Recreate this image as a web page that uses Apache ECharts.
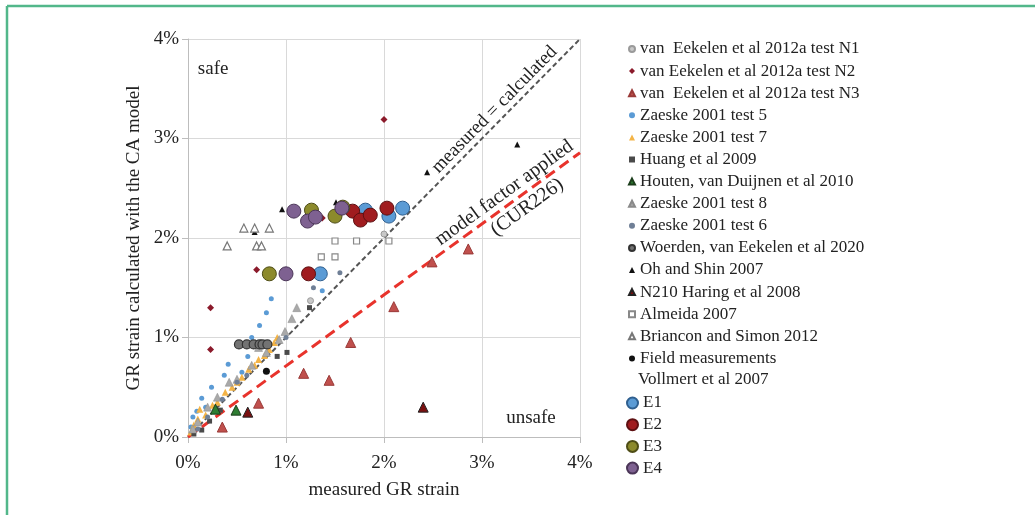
<!DOCTYPE html>
<html>
<head>
<meta charset="utf-8">
<script src="https://cdn.jsdelivr.net/npm/echarts@6/dist/echarts.min.js"></script>
<style>
html,body{margin:0;padding:0;background:#fff;}
#c{width:1035px;height:515px;}
</style>
</head>
<body>
<div id="c"></div>
<script>
// ---- data (values in % strain: [measured, calculated]) ----
var xTicks = [0, 1, 2, 3, 4];
var n1 = [[1.25,1.37],[2.0,2.04]];
var n2 = [[2.0,3.19],[0.23,1.30],[0.23,0.88],[0.70,1.68],[1.37,2.20]];
var n3 = [[2.86,1.89],[2.49,1.76],[2.10,1.31],[1.66,0.95],[1.18,0.64],[1.44,0.57],[0.72,0.34],[0.35,0.10]];
var zaeske5 = [[0.03,0.10],[0.05,0.20],[0.09,0.26],[0.14,0.39],[0.18,0.30],[0.24,0.50],[0.37,0.62],[0.41,0.73],[0.55,0.65],[0.61,0.81],[0.65,1.00],[0.73,1.12],[0.80,1.25],[0.85,1.39],[1.37,1.47]];
var zaeske7 = [[0.03,0.05],[0.06,0.12],[0.10,0.18],[0.12,0.28],[0.18,0.22],[0.25,0.32],[0.30,0.35],[0.38,0.45],[0.45,0.50],[0.50,0.55],[0.55,0.60],[0.62,0.68],[0.68,0.72],[0.72,0.78],[0.78,0.82],[0.83,0.88],[0.88,0.95],[0.91,1.00]];
var huang = [[0.06,0.03],[0.14,0.07],[0.22,0.16],[0.33,0.27],[0.91,0.81],[1.01,0.85],[1.24,1.30]];
var houten = [[0.49,0.27],[0.28,0.28]];
var zaeske8 = [[0.05,0.08],[0.10,0.15],[0.20,0.30],[0.30,0.40],[0.42,0.55],[0.50,0.58],[0.65,0.72],[0.72,0.90],[0.80,0.85],[0.93,0.98],[0.99,1.06],[1.06,1.19],[1.11,1.30]];
var zaeske6 = [[0.10,0.08],[0.20,0.20],[0.35,0.38],[0.50,0.55],[0.60,0.62],[1.00,1.00],[1.28,1.50],[1.55,1.65]];
var woerden = [[0.52,0.93],[0.60,0.93],[0.67,0.93],[0.73,0.93],[0.76,0.93],[0.81,0.93]];
var ohShin = [[3.36,2.94],[2.44,2.66],[0.96,2.29],[1.51,2.36],[0.68,2.06]];
var haring = [[2.40,0.30],[0.61,0.25]];
var almeida = [[1.50,1.97],[1.72,1.97],[2.05,1.97],[1.36,1.81],[1.50,1.81]];
var briancon = [[0.40,1.92],[0.57,2.10],[0.68,2.10],[0.83,2.10],[0.70,1.92],[0.75,1.92]];
var vollmert = [[0.80,0.66]];
var e1 = [[1.35,1.64],[1.81,2.28],[2.05,2.22],[2.19,2.30]];
var e2 = [[1.23,1.64],[1.68,2.27],[1.76,2.18],[1.86,2.23],[2.03,2.30]];
var e3 = [[0.83,1.64],[1.26,2.28],[1.50,2.22],[1.58,2.31]];
var e4 = [[1.00,1.64],[1.08,2.27],[1.22,2.17],[1.30,2.21],[1.57,2.30]];
var lineEqual = [[0,0],[4,4]];
var lineFactor = [[0,0],[4,2.857]];

var names = ['van  Eekelen et al 2012a test N1','van Eekelen et al 2012a test N2','van  Eekelen et al 2012a test N3',
 'Zaeske 2001 test 5','Zaeske 2001 test 7','Huang et al 2009','Houten, van Duijnen et al 2010','Zaeske 2001 test 8',
 'Zaeske 2001 test 6','Woerden, van Eekelen et al 2020','Oh and Shin 2007','N210 Haring et al 2008','Almeida 2007',
 'Briancon and Simon 2012','Field measurements Vollmert et al 2007'];
var eNames = ['E1','E2','E3','E4'];

var FONT = 'Liberation Serif';
function sc(name, data, symbol, size, color, border, bw, z){
  return {name:name, type:'scatter', data:data, symbol:symbol, symbolSize:size, z:z||3,
    itemStyle:{color:color, borderColor:border||color, borderWidth:bw||0, opacity:1}, emphasis:{disabled:true}};
}
var series = [
  {name:'eq', type:'line', data:lineEqual, symbol:'none', z:2, silent:true,
   lineStyle:{color:'#555', width:2, type:[5,3]}},
  {name:'factor', type:'line', data:lineFactor, symbol:'none', z:2, silent:true,
   lineStyle:{color:'#e8332c', width:3, type:[11,6]}},
  sc(names[0], n1, 'circle', 6, '#c8c8c8', '#9a9a9a', 1),
  sc(names[1], n2, 'diamond', 7, '#8b1a2b'),
  sc(names[2], n3, 'triangle', 10, '#c0504d', '#9a3a38', 1),
  sc(names[3], zaeske5, 'circle', 5, '#5b9bd5'),
  sc(names[4], zaeske7, 'triangle', 7, '#f4b446'),
  sc(names[5], huang, 'rect', 5, '#4a4a4a'),
  sc(names[6], houten, 'triangle', 10, '#2e7d32', '#1b3d1b', 1),
  sc(names[7], zaeske8, 'triangle', 8, '#a9a9a9', '#8a8a8a', 0.5),
  sc(names[8], zaeske6, 'circle', 5, '#6f7f96'),
  sc(names[9], woerden, 'circle', 9, '#737373', '#333', 1.2),
  sc(names[10], ohShin, 'triangle', 6, '#111'),
  sc(names[11], haring, 'triangle', 10, '#7a1010', '#222', 1),
  sc(names[12], almeida, 'rect', 6, '#fff', '#888', 1.2),
  sc(names[13], briancon, 'triangle', 8, '#fff', '#777', 1.2),
  sc(names[14], vollmert, 'circle', 7, '#111'),
  sc(eNames[0], e1, 'circle', 14, '#5b9bd5', '#2f5f8f', 1, 5),
  sc(eNames[1], e2, 'circle', 14, '#a01c1f', '#5e1012', 1, 5),
  sc(eNames[2], e3, 'circle', 14, '#8c8a2c', '#4e4d16', 1, 5),
  sc(eNames[3], e4, 'circle', 14, '#7e6191', '#4b3658', 1, 5)
];

var axisCommon = {
  type:'value', min:0, max:4, interval:1,
  axisLine:{show:true, lineStyle:{color:'#bdbdbd', width:1}},
  axisTick:{show:true, length:6, lineStyle:{color:'#bdbdbd'}},
  splitLine:{show:true, lineStyle:{color:'#d9d9d9', width:1}},
  axisLabel:{fontFamily:FONT, fontSize:19, color:'#222', formatter:function(v){return v+'%';}},
  nameTextStyle:{fontFamily:FONT, fontSize:19, color:'#222'}
};

var chart = echarts.init(document.getElementById('c'), null, {renderer:'canvas'});
var option = {
  animation:false,
  backgroundColor:'#fff',
  grid:{left:188, right:455, top:39, bottom:78, containLabel:false},
  xAxis: Object.assign({}, axisCommon, {name:'measured GR strain', nameLocation:'middle', nameGap:44,
    axisLabel:Object.assign({}, axisCommon.axisLabel, {margin:17})}),
  yAxis: Object.assign({}, axisCommon, {name:'GR strain calculated with the CA model', nameLocation:'middle', nameGap:44,
    axisLabel:Object.assign({}, axisCommon.axisLabel, {margin:9})}),
  legend:[
    {orient:'vertical', left:623, top:34, itemWidth:6, itemHeight:6, itemGap:2.1,
     data:names, selectedMode:false,
     formatter:function(n){return n==='Field measurements Vollmert et al 2007'?'Field measurements':n;},
     textStyle:{fontFamily:FONT, fontSize:17, color:'#222', lineHeight:20, padding:[0,0,0,0]}},
    {orient:'vertical', left:621, top:388, itemWidth:11, itemHeight:11, itemGap:1.7,
     data:eNames, selectedMode:false,
     textStyle:{fontFamily:FONT, fontSize:17, color:'#222', lineHeight:20}}
  ],
  series:series
};
chart.setOption(option);

// annotations positioned from data coordinates
function px(p){return chart.convertToPixel({gridIndex:0}, p);}
var pSafe = px([0.1, 3.7]);
var pUnsafe = px([3.5, 0.19]);
var pEq = px([3.21, 3.21]);
var pF1 = px([3.3, 3.3*0.714]);
var pF2 = px([3.3, 3.3*0.714]);
var angF = Math.atan2(px([0,0])[1]-px([4,2.857])[1], px([4,2.857])[0]-px([0,0])[0]);
var angE = Math.atan2(px([0,0])[1]-px([4,4])[1], px([4,4])[0]-px([0,0])[0]);
var txt = {fontFamily:FONT, fontSize:19, fill:'#222'};
var txt2 = {fontFamily:FONT, fontSize:20, fill:'#222'};
chart.setOption({graphic:[
  {type:'line', shape:{x1:7, y1:6, x2:1035, y2:6}, style:{stroke:'#52b78a', lineWidth:2.5}, silent:true},
  {type:'line', shape:{x1:7, y1:6, x2:7, y2:515}, style:{stroke:'#52b78a', lineWidth:2.5}, silent:true},
  {type:'text', x:pSafe[0], y:pSafe[1], style:Object.assign({text:'safe', align:'left', verticalAlign:'middle'}, txt)},
  {type:'text', x:pUnsafe[0], y:pUnsafe[1], style:Object.assign({text:'unsafe', align:'center', verticalAlign:'middle'}, txt)},
  {type:'text', x:pEq[0]-8, y:pEq[1]-8, rotation:angE,
   style:Object.assign({text:'measured = calculated', align:'center', verticalAlign:'middle'}, txt)},
  {type:'text', x:pF1[0]-12*Math.sin(angF), y:pF1[1]-12*Math.cos(angF), rotation:angF,
   style:Object.assign({text:'model factor applied', align:'center', verticalAlign:'middle'}, txt2)},
  {type:'text', x:pF2[0]+13*Math.sin(angF)+10*Math.cos(angF), y:pF2[1]+13*Math.cos(angF)-10*Math.sin(angF), rotation:angF,
   style:Object.assign({text:'(CUR226)', align:'center', verticalAlign:'middle'}, txt2)},
  {type:'text', left:638, top:371, style:{text:'Vollmert et al 2007', fontFamily:FONT, fontSize:17, fill:'#222'}}
]});
</script>
</body>
</html>
